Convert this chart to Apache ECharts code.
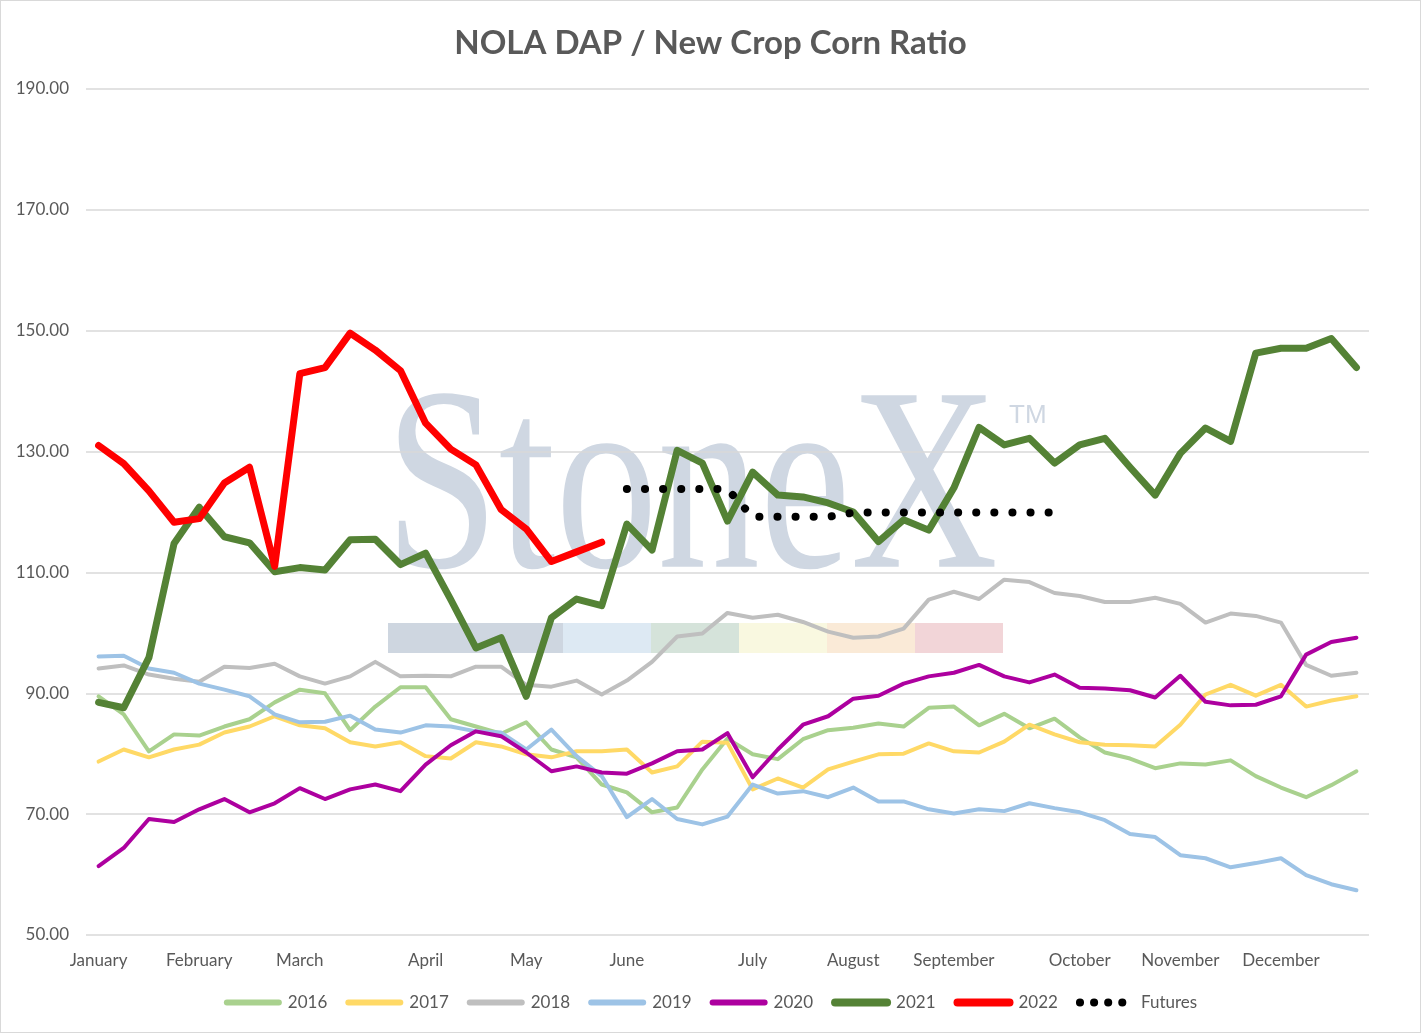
<!DOCTYPE html>
<html>
<head>
<meta charset="utf-8" />
<title>NOLA DAP / New Crop Corn Ratio</title>
<script src="https://cdn.jsdelivr.net/npm/echarts@6/dist/echarts.min.js"></script>
<style>
	html, body { margin: 0; padding: 0; background: #fff; }
	#main { width: 1421px; height: 1033px; box-sizing: border-box; border: 1px solid #d9d9d9; }
</style>
</head>
<body>
<div id="main"></div>
<script>
// weekly points, month names on the first week of each month
var weeks = [
	'January', '', '', '', 'February', '', '', '', 'March', '', '', '', '', 'April', '', '', '',
	'May', '', '', '', 'June', '', '', '', '', 'July', '', '', '', 'August', '', '', '',
	'September', '', '', '', '', 'October', '', '', '', 'November', '', '', '', 'December', '', '', ''
];

var y2016 = [89.5, 86.5, 80.4, 83.2, 83.0, 84.5, 85.7, 88.5, 90.6, 90.0, 83.9, 87.8, 91.0, 91.0, 85.7, 84.5, 83.3,
	85.2, 80.7, 79.4, 74.9, 73.6, 70.3, 71.1, 77.4, 82.5, 79.9, 79.1, 82.4, 83.9, 84.3, 85.0, 84.5, 87.6,
	87.8, 84.7, 86.6, 84.2, 85.8, 82.7, 80.2, 79.2, 77.6, 78.4, 78.2, 78.9, 76.3, 74.4, 72.8, 74.8, 77.1];
var y2017 = [78.7, 80.7, 79.4, 80.7, 81.5, 83.5, 84.5, 86.2, 84.7, 84.2, 81.9, 81.2, 81.9, 79.6, 79.2, 81.9, 81.2,
	79.9, 79.4, 80.4, 80.4, 80.7, 76.9, 77.9, 82.0, 81.8, 74.1, 75.9, 74.4, 77.4, 78.7, 79.9, 80.0, 81.7,
	80.4, 80.2, 82.0, 84.8, 83.2, 81.9, 81.5, 81.4, 81.2, 84.8, 89.8, 91.4, 89.6, 91.4, 87.8, 88.8, 89.5];
var y2018 = [94.1, 94.6, 93.1, 92.4, 91.9, 94.4, 94.2, 94.9, 92.8, 91.6, 92.8, 95.2, 92.8, 92.9, 92.8, 94.4, 94.4,
	91.4, 91.1, 92.1, 89.8, 92.1, 95.2, 99.4, 99.9, 103.3, 102.5, 103.0, 101.8, 100.2, 99.2, 99.4, 100.7, 105.5,
	106.8, 105.6, 108.8, 108.4, 106.6, 106.1, 105.1, 105.1, 105.8, 104.8, 101.7, 103.2, 102.8, 101.7, 94.7, 92.9, 93.4];
var y2019 = [96.1, 96.2, 94.1, 93.4, 91.6, 90.6, 89.5, 86.5, 85.2, 85.3, 86.3, 84.0, 83.5, 84.7, 84.5, 83.7, 83.5,
	80.7, 84.0, 79.6, 76.3, 69.5, 72.5, 69.2, 68.3, 69.6, 74.9, 73.4, 73.8, 72.8, 74.4, 72.1, 72.1, 70.8,
	70.1, 70.8, 70.5, 71.8, 71.0, 70.3, 69.0, 66.7, 66.2, 63.2, 62.7, 61.2, 61.9, 62.7, 59.9, 58.4, 57.4];
var y2020 = [61.4, 64.4, 69.2, 68.7, 70.8, 72.5, 70.3, 71.8, 74.3, 72.5, 74.1, 74.9, 73.8, 78.2, 81.4, 83.7, 82.9,
	80.2, 77.1, 77.9, 76.9, 76.7, 78.4, 80.4, 80.7, 83.4, 76.1, 80.7, 84.8, 86.2, 89.1, 89.6, 91.6, 92.8,
	93.4, 94.7, 92.8, 91.8, 93.1, 90.9, 90.8, 90.5, 89.3, 92.9, 88.6, 88.0, 88.1, 89.5, 96.4, 98.5, 99.2];
var y2021 = [88.5, 87.6, 95.9, 114.8, 120.8, 115.9, 114.9, 110.1, 110.8, 110.4, 115.4, 115.5, 111.3, 113.2, 105.5, 97.5, 99.2,
	89.5, 102.5, 105.6, 104.5, 118.0, 113.7, 130.2, 128.1, 118.5, 126.6, 122.8, 122.5, 121.5, 120.0, 115.1, 118.7, 117.0,
	124.0, 134.0, 131.1, 132.2, 128.1, 131.1, 132.2, 127.4, 122.8, 129.7, 133.9, 131.7, 146.3, 147.1, 147.1, 148.7, 143.9];
var y2022 = [131.0, 128.0, 123.5, 118.3, 118.9, 124.8, 127.4, 111.0, 142.9, 143.9, 149.6, 146.8, 143.4, 134.7, 130.4, 127.8, 120.4,
	117.2, 111.8, 113.4, 115.0];
var futures = ['-', '-', '-', '-', '-', '-', '-', '-', '-', '-', '-', '-', '-', '-', '-', '-', '-',
	'-', '-', '-', '-', 123.8, 123.8, 123.8, 123.8, 123.8, 119.2, 119.2, 119.2, 119.2, 119.9, 119.9, 119.9, 119.9,
	119.9, 119.9, 119.9, 119.9, 119.9];

var font = 'Lato, "Open Sans", sans-serif';
var grey = '#595959';

function line(name, data, color, width, extra) {
	var s = {
		name: name,
		type: 'line',
		data: data,
		symbol: 'none',
		smooth: false,
		silent: true,
		lineStyle: { color: color, width: width, cap: 'round', join: 'round' },
		itemStyle: { color: color }
	};
	if (extra) s.lineStyle.type = extra;
	return s;
}

var myChart = echarts.init(document.getElementById('main'));
var option = {
	backgroundColor: '#fff',
	animation: false,
	title: {
		text: 'NOLA DAP / New Crop Corn Ratio',
		left: 'center',
		top: 21,
		textStyle: { fontFamily: font, fontSize: 33, fontWeight: 'bold', color: grey }
	},
	// StoneX watermark behind the plot
	graphic: [
		{
			type: 'text', z: -10, silent: true, left: 384, top: 366, scaleX: 0.78,
			style: { text: 'StoneX', font: '262px "Liberation Serif", serif', fill: '#cfd7e2' }
		},
		{
			type: 'text', z: -10, silent: true, left: 1008, top: 402,
			style: { text: 'TM', font: '26px "Liberation Sans", sans-serif', fill: '#cfd7e2' }
		},
		{ type: 'rect', z: -10, silent: true, shape: { x: 387, y: 622, width: 175, height: 30 }, style: { fill: '#ced6e0' } },
		{ type: 'rect', z: -10, silent: true, shape: { x: 562, y: 622, width: 88, height: 30 }, style: { fill: '#dde9f3' } },
		{ type: 'rect', z: -10, silent: true, shape: { x: 650, y: 622, width: 88, height: 30 }, style: { fill: '#d5e3da' } },
		{ type: 'rect', z: -10, silent: true, shape: { x: 738, y: 622, width: 88, height: 30 }, style: { fill: '#f9f8e0' } },
		{ type: 'rect', z: -10, silent: true, shape: { x: 826, y: 622, width: 88, height: 30 }, style: { fill: '#faead7' } },
		{ type: 'rect', z: -10, silent: true, shape: { x: 914, y: 622, width: 88, height: 30 }, style: { fill: '#f2d5d8' } }
	],
	legend: {
		bottom: 16,
		left: 'center',
		itemWidth: 52,
		itemHeight: 14,
		itemGap: 18,
		itemStyle: { opacity: 0 },
		textStyle: { fontFamily: font, fontSize: 17, color: grey, padding: [0, 0, 0, 4] },
		data: [
			{ name: '2016', lineStyle: { width: 6 } },
			{ name: '2017', lineStyle: { width: 6 } },
			{ name: '2018', lineStyle: { width: 6 } },
			{ name: '2019', lineStyle: { width: 6 } },
			{ name: '2020', lineStyle: { width: 6 } },
			{ name: '2021', lineStyle: { width: 8 } },
			{ name: '2022', lineStyle: { width: 8 } },
			{ name: 'Futures', lineStyle: { width: 8, type: [0.1, 14] } }
		]
	},
	grid: { left: 85, right: 51, top: 88, bottom: 97 },
	xAxis: {
		type: 'category',
		data: weeks,
		boundaryGap: true,
		axisLine: { show: false },
		axisTick: { show: false },
		axisLabel: { interval: 0, margin: 17, fontFamily: font, fontSize: 17, color: grey }
	},
	yAxis: {
		type: 'value',
		min: 50,
		max: 190,
		interval: 20,
		axisLine: { show: false },
		axisTick: { show: false },
		axisLabel: {
			margin: 17, fontFamily: font, fontSize: 17, color: grey,
			formatter: function (v) { return v.toFixed(2); }
		},
		splitLine: { lineStyle: { color: '#d9d9d9', width: 1.5 } }
	},
	series: [
		line('2016', y2016, '#a9d18e', 4),
		line('2017', y2017, '#ffd966', 4),
		line('2018', y2018, '#bfbfbf', 4),
		line('2019', y2019, '#9dc3e6', 4),
		line('2020', y2020, '#ad009f', 4),
		line('2021', y2021, '#548235', 7),
		line('2022', y2022, '#ff0000', 7),
		line('Futures', futures, '#000000', 8, [0.1, 18])
	]
};
myChart.setOption(option);
window.onresize = myChart.resize;
</script>
</body>
</html>
